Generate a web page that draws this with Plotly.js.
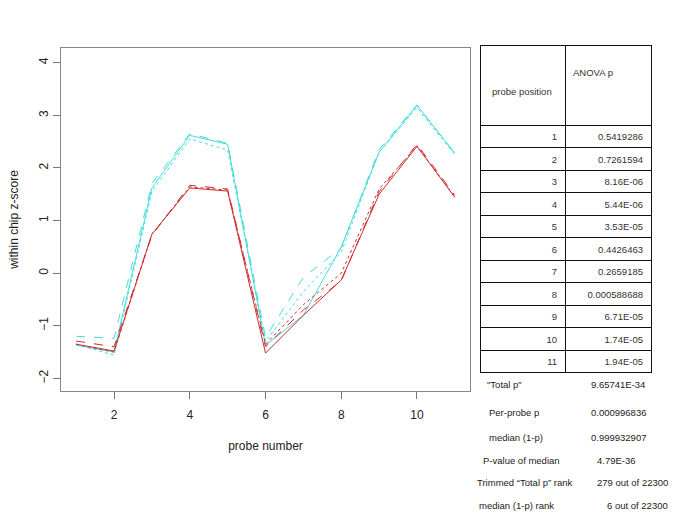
<!DOCTYPE html>
<html>
<head>
<meta charset="utf-8">
<script src="https://cdn.plot.ly/plotly-3.0.1.min.js"></script>
<style>
  body { margin: 0; background: #fff; }
  #plotter { width: 685px; height: 513px; }
</style>
</head>
<body>
<div id="plotter"></div>
<script>
// probe index along the gene
var probes = [1, 2, 3, 4, 5, 6, 7, 8, 9, 10, 11];

// within chip z-scores, red group
var redSolid  = [-1.35, -1.48, 0.74, 1.62, 1.56, -1.52, -0.80, -0.13, 1.50, 2.41, 1.44];
var redDash   = [-1.29, -1.40, 0.72, 1.67, 1.60, -1.40, -0.70, -0.15, 1.55, 2.45, 1.48];
var redDot    = [-1.35, -1.50, 0.74, 1.64, 1.58, -1.35, -0.60,  0.00, 1.60, 2.42, 1.45];

// within chip z-scores, cyan group
var cyanSolid = [-1.37, -1.50, 1.62, 2.62, 2.45, -1.37, -0.80, 0.50, 2.30, 3.19, 2.28];
var cyanDash  = [-1.20, -1.24, 1.70, 2.65, 2.47, -1.22, -0.08, 0.48, 2.35, 3.20, 2.27];
var cyanDot   = [-1.35, -1.56, 1.55, 2.55, 2.34, -1.30, -0.35, 0.40, 2.30, 3.15, 2.25];

// ANOVA table
var tableHead = ['probe position', 'ANOVA p'];
var positions = ['1', '2', '3', '4', '5', '6', '7', '8', '9', '10', '11'];
var anovaP = ['0.5419286', '0.7261594', '8.16E-06', '5.44E-06', '3.53E-05', '0.4426463',
              '0.2659185', '0.000588688', '6.71E-05', '1.74E-05', '1.94E-05'];

// summary lines under the table
var statLabels = ['"Total p"', 'Per-probe p', 'median (1-p)', 'P-value of median',
                  'Trimmed \u201cTotal p\u201d rank', 'median (1-p) rank'];
var statValues = ['9.65741E-34', '0.000996836', '0.999932907', '4.79E-36',
                  '279 out of 22300', '6 out of 22300'];

var RED = 'rgb(205,45,45)';
var CYAN = 'rgb(70,220,220)';
var FONT = 'Liberation Sans, Arial, sans-serif';

// page pixel -> paper coords (plot area is x 61..655, y 45..391)
var L = 61, W = 594, B = 391, H = 346;
function px(x) { return (x - L) / W; }
function py(y) { return (B - y) / H; }

function line(y, color, dash) {
    return {
        x: probes, y: y, type: 'scatter', mode: 'lines',
        line: {color: color, width: 1, dash: dash},
        hoverinfo: 'skip'
    };
}

var data = [
    line(cyanSolid, CYAN, 'solid'),
    line(cyanDash, CYAN, 'dash'),
    line(cyanDot, CYAN, 'dot'),
    line(redSolid, RED, 'solid'),
    line(redDash, RED, 'dash'),
    line(redDot, RED, 'dot'),
    {
        type: 'table',
        domain: {x: [px(480), px(651)], y: [py(373), 1]},
        columnwidth: [85, 86],
        header: {
            values: ['', ''],
            height: 80,
            line: {color: '#111', width: 1},
            fill: {color: 'white'}
        },
        cells: {
            values: [positions, anovaP],
            height: 22.5,
            align: 'right',
            line: {color: '#111', width: 1},
            fill: {color: 'white'},
            font: {family: FONT, size: 9.5, color: '#333'}
        }
    }
];

var annotations = [
    {xref: 'paper', yref: 'paper', x: px(522), y: py(91), xanchor: 'center', yanchor: 'middle',
     showarrow: false, text: tableHead[0], font: {family: FONT, size: 9.5, color: '#333'}},
    {xref: 'paper', yref: 'paper', x: px(571), y: py(72), xanchor: 'left', yanchor: 'middle',
     showarrow: false, text: tableHead[1], font: {family: FONT, size: 9.5, color: '#333'}}
];

// label left edges and value left edges for the summary lines
var statY = [384, 413, 437, 460, 482, 505];
var labelX = [485, 487, 487, 481, 475, 477];
var valueX = [589, 589, 589, 595, 595, 605];
for (var i = 0; i < statLabels.length; i++) {
    annotations.push({
        xref: 'paper', yref: 'paper', x: px(labelX[i]), y: py(statY[i]),
        xanchor: 'left', yanchor: 'middle', showarrow: false,
        text: statLabels[i], font: {family: FONT, size: 9.5, color: '#222'}
    });
    annotations.push({
        xref: 'paper', yref: 'paper', x: px(valueX[i]), y: py(statY[i]),
        xanchor: 'left', yanchor: 'middle', showarrow: false,
        text: statValues[i], font: {family: FONT, size: 9.5, color: '#222'}
    });
}

var layout = {
    width: 685, height: 513,
    margin: {l: L, r: 685 - L - W, t: 45, b: 513 - B, pad: 0},
    paper_bgcolor: 'white', plot_bgcolor: 'white',
    showlegend: false,
    font: {family: FONT, size: 12, color: '#222'},
    xaxis: {
        domain: [0, px(470)],
        range: [0.6, 11.4],
        tickvals: [2, 4, 6, 8, 10],
        ticks: 'outside', ticklen: 7, tickcolor: '#777',
        ticklabelstandoff: 6,
        showline: true, mirror: true, linecolor: '#888', linewidth: 1,
        showgrid: false, zeroline: false,
        tickfont: {size: 12},
        title: {text: 'probe number', font: {size: 12}, standoff: 20}
    },
    yaxis: {
        domain: [0, py(48)],
        range: [-2.24, 4.28],
        tickvals: [-2, -1, 0, 1, 2, 3, 4],
        tickangle: -90,
        ticks: 'outside', ticklen: 7, tickcolor: '#777',
        showline: true, mirror: true, linecolor: '#888', linewidth: 1,
        showgrid: false, zeroline: false,
        tickfont: {size: 12},
        title: {text: 'within chip z-score', font: {size: 12}, standoff: 16}
    },
    annotations: annotations
};

Plotly.newPlot('plotter', data, layout, {staticPlot: true});
</script>
</body>
</html>
